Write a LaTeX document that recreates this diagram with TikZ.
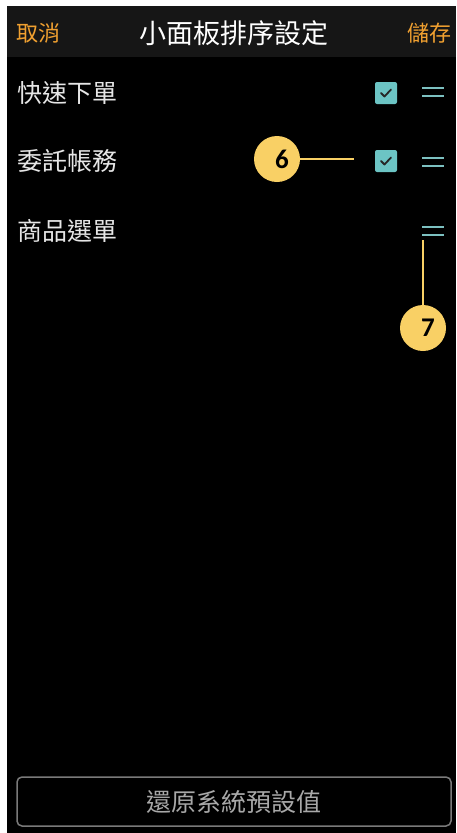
\documentclass[tikz,border=0pt]{standalone}
\usepackage{fontspec}
\setmainfont{Noto Sans CJK TC}
\newfontfamily\numfont{Carlito}
\definecolor{hdr}{HTML}{161616}
\definecolor{orng}{HTML}{F0A030}
\definecolor{teal}{HTML}{6CC4C4}
\definecolor{handlec}{HTML}{7CC0C0}
\definecolor{callout}{HTML}{F9D065}
\definecolor{itemtxt}{HTML}{E6E6E6}
\definecolor{btnline}{HTML}{7A7A7A}
\definecolor{btntxt}{HTML}{A8A8A8}
\tikzset{
  itemlabel/.style={anchor=west, inner sep=0pt, text=itemtxt, font=\fontsize{25}{28}\selectfont},
  chkbox/.style={fill=teal, rounded corners=2pt, minimum size=22pt, inner sep=0pt},
  handle/.style={draw=handlec, line width=2.6pt},
  badge/.style={circle, fill=callout, minimum size=46pt, inner sep=0pt},
  badgenum/.style={inner sep=0pt, font=\numfont\bfseries\fontsize{27}{30}\selectfont},
  leader/.style={draw=callout, line width=1.6pt}
}
\begin{document}
\begin{tikzpicture}[x=1pt, y=-1pt]
\useasboundingbox (0,0) rectangle (456,833);
\fill[white] (0,0) rectangle (456,833);
\fill[black] (7,6) rectangle (456,833);
\fill[hdr] (7,6) rectangle (456,57);
% header
\node[anchor=west, inner sep=0pt, text=orng, font=\fontsize{22}{24}\selectfont] (cancel) at (16,33) {取消};
\node[inner sep=0pt, text=white, font=\fontsize{27}{30}\selectfont] (title) at (234,33) {小面板排序設定};
\node[anchor=east, inner sep=0pt, text=orng, font=\fontsize{22}{24}\selectfont] (save) at (452,33) {儲存};
% items
\node[itemlabel] (i1) at (17,93) {快速下單};
\node[itemlabel] (i2) at (17,161) {委託帳務};
\node[itemlabel] (i3) at (17,231) {商品選單};
% checkboxes
\node[chkbox] (c1) at (386,93) {};
\node[chkbox] (c2) at (386,161) {};
\draw[black!85, line width=1.8pt, line cap=round, line join=round] ([shift={(-5,0)}]c1.center) -- ([shift={(-1.5,3.5)}]c1.center) -- ([shift={(5,-3.5)}]c1.center);
\draw[black!85, line width=1.8pt, line cap=round, line join=round] ([shift={(-5,0)}]c2.center) -- ([shift={(-1.5,3.5)}]c2.center) -- ([shift={(5,-3.5)}]c2.center);
% handles
\coordinate (h1) at (433,92);
\coordinate (h2) at (433,162);
\coordinate (h3) at (433,231);
\foreach \h in {h1,h2,h3}{
  \draw[handle] ([shift={(-11,-4)}]\h) -- ([shift={(11,-4)}]\h);
  \draw[handle] ([shift={(-11,4)}]\h) -- ([shift={(11,4)}]\h);
}
% callouts
\node[badge] (b6) at (277,159) {};
\node[badgenum] (n6) at (282,159) {6};
\coordinate (e6) at (354,159);
\draw[leader] (b6.east) -- (e6);
\node[badge] (b7) at (423,328) {};
\node[badgenum] (n7) at (428,328) {7};
\coordinate (e7) at (423,240);
\draw[leader] (e7) -- (b7.north);
% bottom button
\draw[btnline, line width=1.5pt, rounded corners=5pt] (17,777) rectangle (451,826);
\node[inner sep=0pt, text=btntxt, font=\fontsize{25}{28}\selectfont] (reset) at (234,802) {還原系統預設值};
\end{tikzpicture}
\end{document}
